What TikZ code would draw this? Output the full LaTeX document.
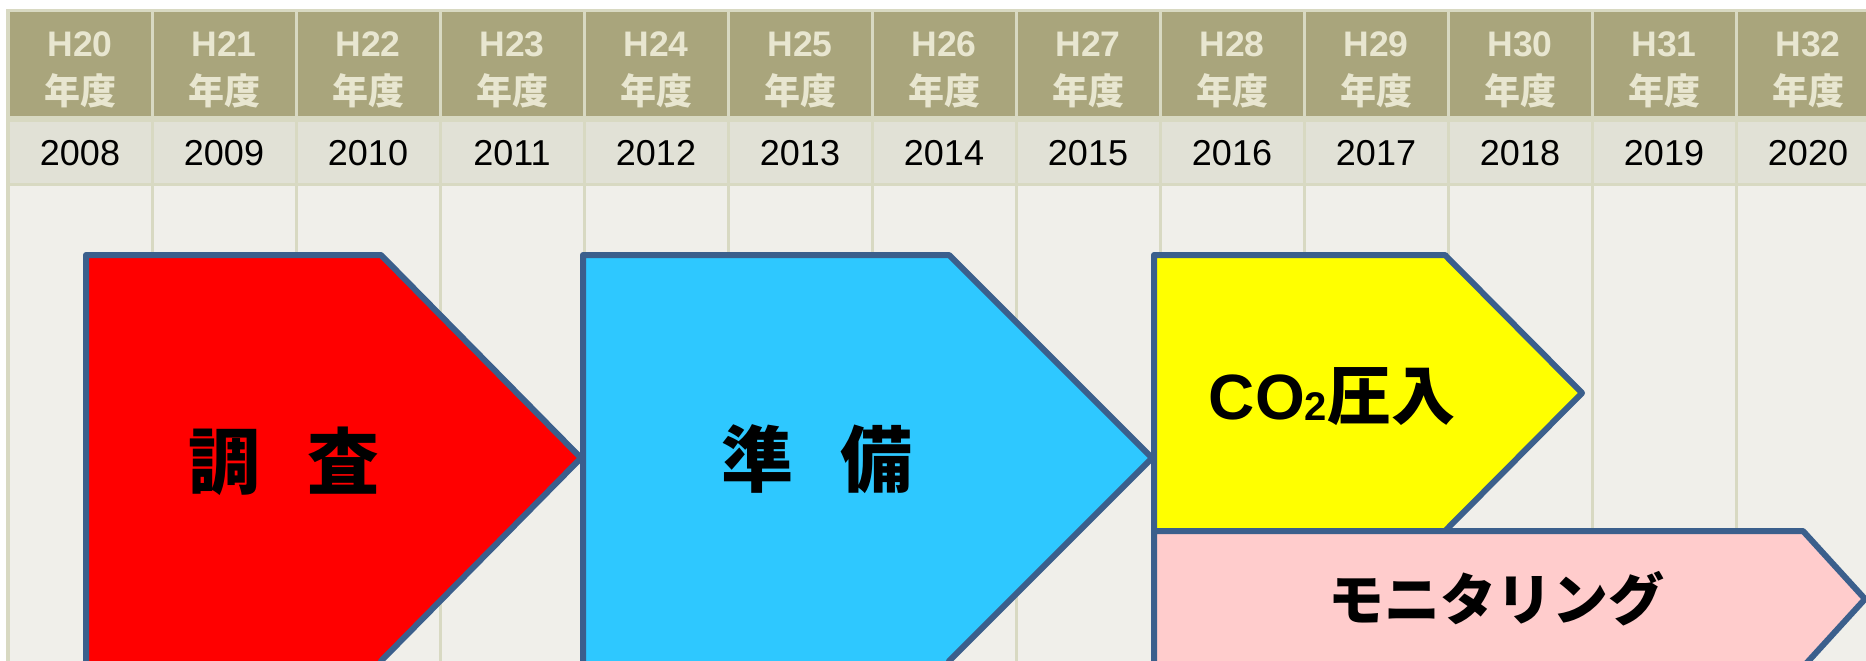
\documentclass[tikz,border=0pt]{standalone}
\usepackage{fontspec}
\setmainfont{Liberation Sans}
\newfontfamily\jp{Noto Sans CJK JP}
\definecolor{hdark}{HTML}{A9A57C}
\definecolor{htext}{HTML}{E8E6D0}
\definecolor{yrow}{HTML}{E1E1D6}
\definecolor{body}{HTML}{F0EFEA}
\definecolor{grid}{HTML}{D8D9C2}
\definecolor{edge}{HTML}{3B5F8C}
\definecolor{cred}{HTML}{FF0000}
\definecolor{cblue}{HTML}{2EC8FF}
\definecolor{cyellow}{HTML}{FFFF00}
\definecolor{cpink}{HTML}{FFCCCC}
\tikzset{
  phase/.style={draw=edge, line width=6pt, line join=round},
  hlabel/.style={text=htext, font=\fontsize{35.5}{38}\selectfont\bfseries, inner sep=0pt},
  jlabel/.style={text=htext, font=\fontsize{36}{38}\selectfont\jp\bfseries, inner sep=0pt},
  ylabel/.style={text=black, font=\fontsize{36}{38}\selectfont, inner sep=0pt},
  biglabel/.style={text=black, font=\fontsize{72}{76}\selectfont\jp\bfseries, inner sep=0pt},
}
\begin{document}
\begin{tikzpicture}[x=1pt,y=-1pt]
\useasboundingbox (0,0) rectangle (1866,661);
\clip (0,0) rectangle (1866,661);
\fill[white] (0,0) rectangle (1866,661);
\fill[grid] (6,9) rectangle (1870,670);
\foreach \i in {0,...,12} {
  \pgfmathsetmacro\xa{8+144*\i+1.5}
  \pgfmathsetmacro\xb{8+144*(\i+1)-1.5}
  \pgfmathsetmacro\xc{80+144*\i}
  \pgfmathtruncatemacro\hh{20+\i}
  \pgfmathtruncatemacro\yy{2008+\i}
  \fill[hdark] (\xa,12) rectangle (\xb,116);
  \fill[yrow] (\xa,122) rectangle (\xb,183);
  \fill[body] (\xa,186) rectangle (\xb,670);
  \node[hlabel] (h\i) at (\xc,44) {H\hh};
  \node[jlabel] (n\i) at (\xc,91) {年度};
  \node[ylabel] (y\i) at (\xc,153) {\yy};
}
% phases
\draw[phase, fill=cred] (86,255) coordinate (r1) -- (381,255) -- (581,458) coordinate (rt) -- (381,661) -- (381,670) -- (86,670) -- cycle;
\draw[phase, fill=cblue] (583,255) -- (949,255) -- (1152,458) coordinate (bt) -- (949,661) -- (949,670) -- (583,670) -- cycle;
\draw[phase, fill=cyellow] (1154,255) -- (1445,255) -- (1582,393) coordinate (yt) -- (1445,531) -- (1154,531) -- cycle;
\draw[phase, fill=cpink] (1154,531) -- (1803,531) -- (1865,599) coordinate (pt) -- (1803,667) -- (1154,667) -- cycle;
\node[biglabel] (survey) at (284,461) {調\hspace{48pt}査};
\node[biglabel] (prep) at (817,459) {準\hspace{48pt}備};
\node[text=black, inner sep=0pt] (inject) at (1332,397)
  {\fontsize{64}{68}\selectfont\bfseries CO\raisebox{-1pt}{\fontsize{40}{42}\selectfont 2}\jp 圧入};
\node[text=black, font=\fontsize{56}{60}\selectfont\jp\bfseries, inner sep=0pt] (monitor) at (1496,599) {モニタリング};
\end{tikzpicture}
\end{document}
